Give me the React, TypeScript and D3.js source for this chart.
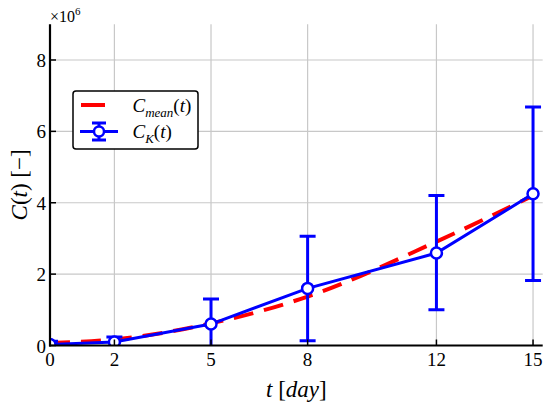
import * as d3 from 'd3';

// values in units of 10^6
const days = [0, 2, 5, 8, 12, 15];
const meanValues = [0.07, 0.17, 0.62, 1.37, 2.91, 4.2];
const kValues = [0.03, 0.1, 0.6, 1.6, 2.59, 4.25];
const kLower = [-0.05, -0.05, -0.1, 0.13, 1.0, 1.82];
const kUpper = [0.12, 0.24, 1.3, 3.06, 4.2, 6.68];
const xTicks = [0, 2, 5, 8, 12, 15];
const yTicks = [0, 2, 4, 6, 8];

const width = 550;
const height = 405;
const margins = { top: 24.3, right: 7.3, bottom: 59.5, left: 50 };
const serif = "'Liberation Serif', 'Times New Roman', Times, 'DejaVu Serif', serif";
const blue = '#0000ff';
const red = '#ff0000';

const App = () => {
  const xScale = d3
    .scaleLinear()
    .domain([0, 15.3])
    .range([margins.left, width - margins.right]);
  const yScale = d3
    .scaleLinear()
    .domain([0, 9])
    .range([height - margins.bottom, margins.top]);

  const x0 = xScale(0);
  const x1 = xScale(15.3);
  const y0 = yScale(0);
  const y1 = yScale(9);

  const meanLine = d3
    .line<number>()
    .x((_, i) => xScale(days[i]))
    .y(d => yScale(d))
    .curve(d3.curveMonotoneX);
  const kLine = d3
    .line<number>()
    .x((_, i) => xScale(days[i]))
    .y(d => yScale(d));

  return (
    <svg
      width={width}
      height={height}
      viewBox={`0 0 ${width} ${height}`}
      style={{ position: 'absolute', left: 0, top: 0, background: '#fff', fontFamily: serif }}
    >
      <defs>
        <clipPath id="plot-area">
          <rect x={x0} y={y1} width={x1 - x0} height={y0 - y1} />
        </clipPath>
      </defs>
      <rect width={width} height={height} fill="#fff" />

      {/* grid */}
      {xTicks
        .filter(t => t > 0)
        .map(t => (
          <line key={`gx${t}`} x1={xScale(t)} x2={xScale(t)} y1={y0} y2={y1} stroke="#c8c8c8" strokeWidth={1.2} />
        ))}
      {yTicks
        .filter(t => t > 0)
        .map(t => (
          <line key={`gy${t}`} x1={x0} x2={x1} y1={yScale(t)} y2={yScale(t)} stroke="#c8c8c8" strokeWidth={1.2} />
        ))}

      <g clipPath="url(#plot-area)">
        <path
          d={meanLine(meanValues) || ''}
          fill="none"
          stroke={red}
          strokeWidth={4}
          strokeDasharray="20,11"
        />
        <path d={kLine(kValues) || ''} fill="none" stroke={blue} strokeWidth={3} />
        {days.map((t, i) => (
          <g key={`eb${t}`} stroke={blue} strokeWidth={3}>
            <line x1={xScale(t)} x2={xScale(t)} y1={yScale(kLower[i])} y2={yScale(kUpper[i])} />
            <line x1={xScale(t) - 8} x2={xScale(t) + 8} y1={yScale(kLower[i])} y2={yScale(kLower[i])} />
            <line x1={xScale(t) - 8} x2={xScale(t) + 8} y1={yScale(kUpper[i])} y2={yScale(kUpper[i])} />
          </g>
        ))}
        {days.map((t, i) => (
          <circle key={`pt${t}`} cx={xScale(t)} cy={yScale(kValues[i])} r={5.5} fill="#fff" stroke={blue} strokeWidth={2.5} />
        ))}
      </g>

      {/* axes */}
      <line x1={x0} x2={x0} y1={y0 + 1} y2={y1} stroke="#000" strokeWidth={2.2} />
      <line x1={x0 - 1} x2={x1} y1={y0} y2={y0} stroke="#000" strokeWidth={2.2} />
      {xTicks.map(t => (
        <g key={`xt${t}`}>
          <line x1={xScale(t)} x2={xScale(t)} y1={y0} y2={y0 - 6} stroke="#000" strokeWidth={1.5} />
          <text x={xScale(t)} y={y0 + 20} textAnchor="middle" fontSize={19}>
            {t}
          </text>
        </g>
      ))}
      {yTicks.map(t => (
        <g key={`yt${t}`}>
          <line x1={x0} x2={x0 + 6} y1={yScale(t)} y2={yScale(t)} stroke="#000" strokeWidth={1.5} />
          <text x={x0 - 4} y={yScale(t) + 7} textAnchor="end" fontSize={19}>
            {t}
          </text>
        </g>
      ))}

      <text x={x0} y={21.5} fontSize={16}>
        ×10
        <tspan fontSize={11} dy={-7}>
          6
        </tspan>
      </text>

      <text x={(x0 + x1) / 2} y={397} textAnchor="middle" fontSize={23}>
        <tspan fontStyle="italic">t</tspan> [<tspan fontStyle="italic">day</tspan>]
      </text>
      <text transform={`translate(27, ${(y0 + y1) / 2}) rotate(-90)`} textAnchor="middle" fontSize={23}>
        <tspan fontStyle="italic">C</tspan>(<tspan fontStyle="italic">t</tspan>) [−]
      </text>

      {/* legend */}
      <rect x={73} y={91} width={125} height={58} rx={3} fill="#fff" stroke="#000" strokeWidth={1.5} />
      <line x1={81} x2={105} y1={105} y2={105} stroke={red} strokeWidth={4} />
      <text x={132.5} y={112} fontSize={19}>
        <tspan fontStyle="italic">C</tspan>
        <tspan fontStyle="italic" fontSize={13} dy={5}>
          mean
        </tspan>
        <tspan dy={-5}>(</tspan>
        <tspan fontStyle="italic">t</tspan>)
      </text>
      <g stroke={blue} strokeWidth={3}>
        <line x1={80} x2={118} y1={131.5} y2={131.5} />
        <line x1={99} x2={99} y1={123} y2={140} />
        <line x1={92} x2={106} y1={123} y2={123} />
        <line x1={92} x2={106} y1={140} y2={140} />
      </g>
      <circle cx={99} cy={131.5} r={5} fill="#fff" stroke={blue} strokeWidth={2.5} />
      <text x={132.5} y={138} fontSize={19}>
        <tspan fontStyle="italic">C</tspan>
        <tspan fontStyle="italic" fontSize={13} dy={5}>
          K
        </tspan>
        <tspan dy={-5}>(</tspan>
        <tspan fontStyle="italic">t</tspan>)
      </text>
    </svg>
  );
};

export default App;
